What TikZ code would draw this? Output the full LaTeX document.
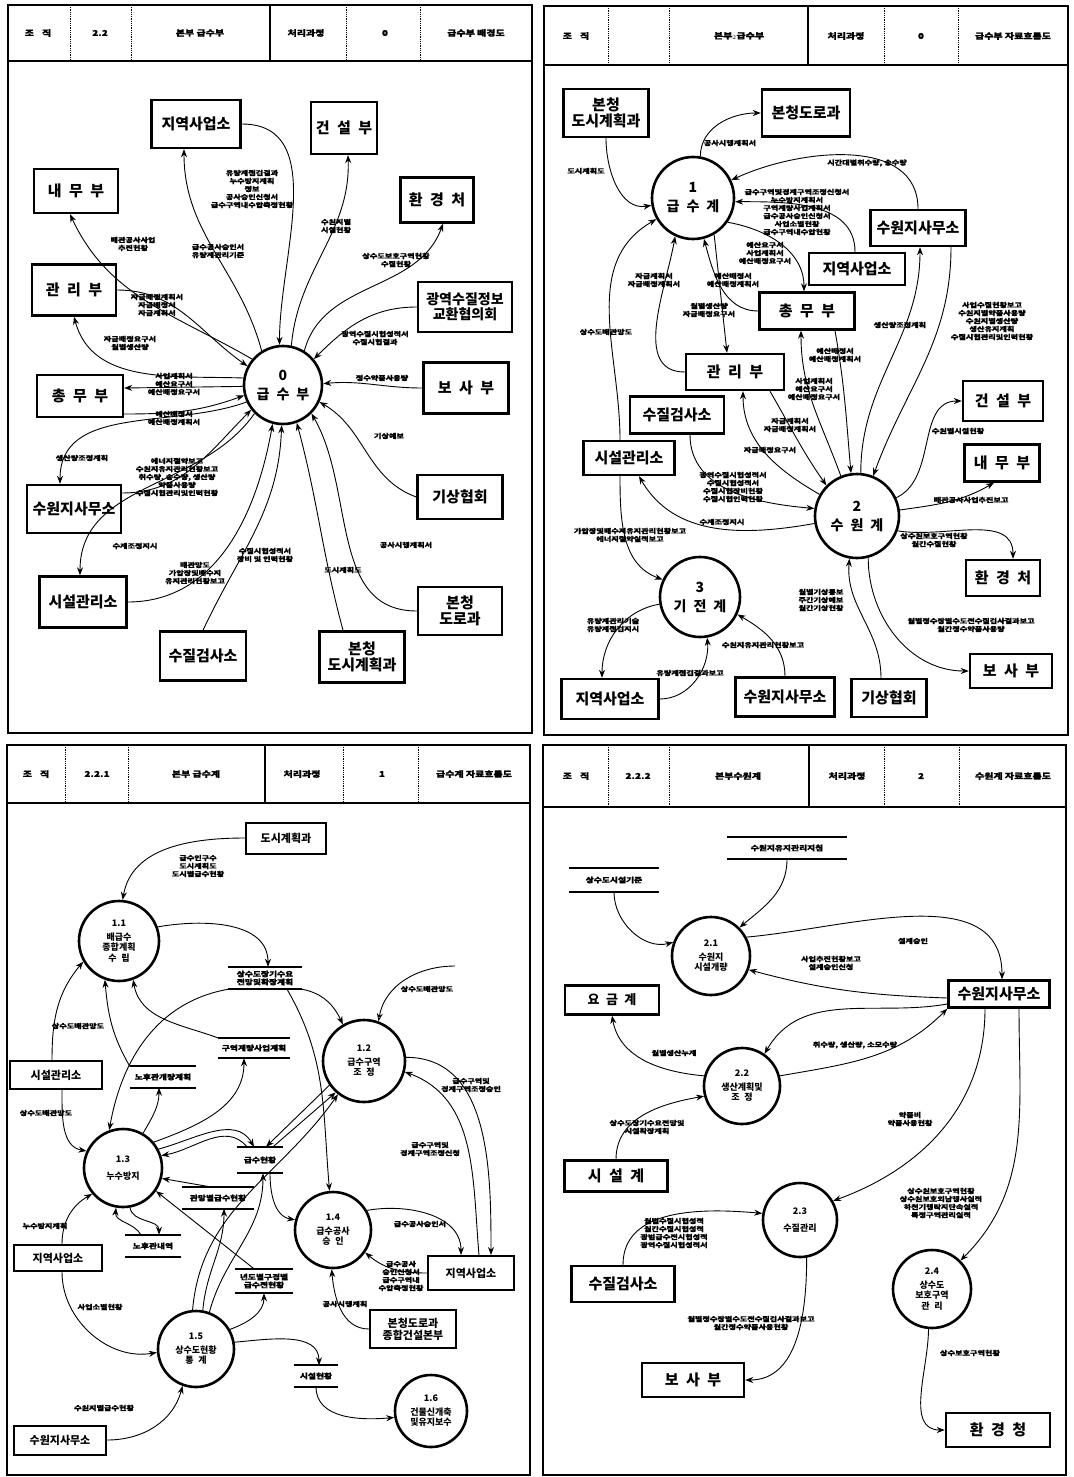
\documentclass[tikz,border=0pt]{standalone}
\usepackage{fontspec}
\setmainfont{Noto Sans CJK KR}
\newfontfamily\lblfam{Noto Sans CJK KR}[FakeStretch=1.25,FakeBold=1.2]
\usetikzlibrary{positioning,shapes,arrows,arrows.meta}

\newcommand\kgap{\hspace{.5em}}
\newcommand\extfont{\fontsize{15}{16}\selectfont\bfseries}
\newcommand\extsfont{\fontsize{11}{12}\selectfont\bfseries}
\newcommand\procfont{\fontsize{14}{16}\selectfont\bfseries}
\newcommand\procsfont{\fontsize{9}{10.5}\selectfont\bfseries}
\newcommand\lblfont{\lblfam\fontsize{6.5}{8}\selectfont\bfseries}
\newcommand\stfont{\lblfam\fontsize{7}{8}\selectfont\bfseries}
\newcommand\hdfont{\lblfam\fontsize{8}{9}\selectfont\bfseries}

\begin{document}
\begin{tikzpicture}[x=1pt, y=1pt,
  >={Stealth[length=8pt,width=6pt]},
  ext/.style={draw, line width=2.4pt, font=\extfont, inner sep=2pt, align=center},
  exts/.style={ext, line width=2pt, font=\extsfont},
  proc/.style={circle, draw, line width=2.6pt, inner sep=0pt, align=center, font=\procfont},
  procs/.style={proc, font=\procsfont},
  store/.style={font=\stfont, align=center, inner sep=1pt,
    append after command={(\tikzlastnode.north west) edge[line width=2pt] (\tikzlastnode.north east)
      (\tikzlastnode.south west) edge[line width=2pt] (\tikzlastnode.south east)}},
  flow/.style={->, line width=0.9pt},
  lbl/.style={font=\lblfont, align=center, inner sep=0pt},
  hd/.style={font=\hdfont, inner sep=0pt},
  frame/.style={line width=2.6pt},
  hdiv/.style={line width=0.8pt, densely dotted}]
\useasboundingbox (0,0) rectangle (1073,-1477);

% ---------------- panel 1 : 급수부 배경도
\draw[frame] (8,-5) rectangle (532,-733);
\draw[frame] (8,-61) -- (532,-61);
\draw[frame] (270,-5) -- (270,-61);
\foreach \x in {70,131,346,420} \draw[hdiv] (\x,-5) -- (\x,-61);
\node[hd] (hA1) at (38,-33) {조\kgap\kgap 직};
\node[hd] (hA2) at (100,-33) {2.2};
\node[hd] (hA3) at (200,-33) {본부 급수부};
\node[hd] (hA4) at (306,-33) {처리과정};
\node[hd] (hA5) at (385,-33) {0};
\node[hd] (hA6) at (476,-33) {급수부 배경도};

\node[ext, minimum width=89, minimum height=48] (tlJiy) at (196,-124) {지역사업소};
\node[ext, minimum width=66, minimum height=52] (tlGeon) at (344,-128) {건\kgap 설\kgap 부};
\node[ext, minimum width=84, minimum height=44] (tlNae) at (76,-191) {내\kgap 무\kgap 부};
\node[ext, minimum width=73, minimum height=45] (tlHwan) at (437,-200) {환\kgap 경\kgap 처};
\node[ext, minimum width=84, minimum height=51] (tlGwan) at (74,-290) {관\kgap 리\kgap 부};
\node[ext, minimum width=94, minimum height=50, font=\fontsize{14}{15}\selectfont\bfseries] (tlGwang) at (465,-307) {광역수질정보\\교환협의회};
\node[proc, minimum size=78] (c0) at (283,-385) {0\\[3pt]급\kgap 수\kgap 부};
\node[ext, minimum width=86, minimum height=42] (tlChong) at (80,-396) {총\kgap 무\kgap 부};
\node[ext, minimum width=85, minimum height=51] (tlBosa) at (466,-388) {보\kgap 사\kgap 부};
\node[ext, minimum width=85, minimum height=44] (tlGisang) at (460,-497) {기상협회};
\node[ext, minimum width=94, minimum height=48] (tlSuwon) at (74,-509) {수원지사무소};
\node[ext, minimum width=87, minimum height=51] (tlSiseol) at (83,-602) {시설관리소};
\node[ext, minimum width=86, minimum height=49] (tlSujil) at (203,-656) {수질검사소};
\node[ext, minimum width=85, minimum height=51] (tlDosi) at (362,-657) {본청\\도시계획과};
\node[ext, minimum width=84, minimum height=48] (tlDoro) at (460,-611) {본청\\도로과};

\draw[flow] (c0.122) to[out=105,in=-90] ([xshift=-12pt]tlJiy.south);
\draw[flow] (tlJiy.east) to[out=0,in=90] (c0.95);
\draw[flow] (c0.78) to[out=85,in=-88] ([xshift=4pt]tlGeon.south);
\draw[flow] (c0.58) to[out=75,in=-110] ([xshift=6pt]tlHwan.south);
\draw[flow] (c0.140) to[out=150,in=-65] ([xshift=-6pt]tlNae.south);
\draw[flow] (tlGwan.east) to[out=0,in=145] (c0.152);
\draw[flow] (c0.170) to[out=178,in=-75] (tlGwan.south);
\draw[flow] (tlGwang.west) to[out=180,in=45] (c0.40);
\draw[flow] (tlBosa.west) to[out=180,in=5] (c0.2);
\draw[flow] (c0.182) -- ([yshift=8pt]tlChong.east);
\draw[flow] ([yshift=-18pt]tlChong.east) to[out=0,in=200] (c0.195);
\draw[flow] (tlGisang.west) to[out=160,in=-30] (c0.-25);
\draw[flow] (c0.205) to[out=200,in=90] ([xshift=-14pt]tlSuwon.north);
\draw[flow] ([yshift=16pt]tlSuwon.east) to[out=0,in=225] (c0.218);
\draw[flow] (c0.-135) to[out=235,in=90] ([xshift=-3pt]tlSiseol.north);
\draw[flow] (tlSiseol.east) to[out=0,in=-100] (c0.-105);
\draw[flow] (tlSujil.north) to[out=65,in=-92] (c0.-92);
\draw[flow] ([xshift=-19pt]tlDosi.north) to[out=105,in=-75] (c0.-70);
\draw[flow] (tlDoro.west) to[out=180,in=-60] (c0.-45);

\node[lbl] (tlL1) at (252,-189) {유량계점검결과\\누수방지계획\\정보\\공사승인신청서\\급수구역내수압측정현황};
\node[lbl] (tlL2) at (218,-251) {급수공사승인서\\유량계관리기준};
\node[lbl] (tlL3) at (133,-244) {배관공사사업\\추진현황};
\node[lbl] (tlL4) at (336,-226) {수원지별\\시설현황};
\node[lbl] (tlL5) at (396,-260) {상수도보호구역현황\\수질현황};
\node[lbl] (tlL6) at (157,-305) {자금배정계획서\\자금배정서\\자금계획서};
\node[lbl] (tlL7) at (130,-343) {자금배정요구서\\월별생산량};
\node[lbl] (tlL8) at (375,-338) {광역수질시험성적서\\수질시험결과};
\node[lbl] (tlL9) at (382,-378) {정수약품사용량};
\node[lbl] (tlL10) at (174,-384) {사업계획서\\예산요구서\\예산배정요구서};
\node[lbl] (tlL11) at (174,-418) {예산배정서\\예산배정계획서};
\node[lbl] (tlL12) at (389,-436) {기상예보};
\node[lbl] (tlL13) at (82,-458) {생산량조정계획};
\node[lbl] (tlL14) at (177,-477) {에너지절약보고\\수원지유지관리현황보고\\취수량, 송수량, 생산량\\약품사용량\\수질시험관리및인력현황};
\node[lbl] (tlL15) at (135,-546) {수계조정지시};
\node[lbl] (tlL16) at (195,-573) {배관망도\\가압장및배수지\\유지관리현황보고};
\node[lbl] (tlL17) at (265,-555) {수질시험성적서\\장비 및 인력현황};
\node[lbl] (tlL18) at (343,-570) {도시계획도};
\node[lbl] (tlL19) at (406,-545) {공사시행계획서};

% ---------------- panel 2 : 급수부 자료흐름도
\draw[frame] (544,-6) rectangle (1068,-735);
\draw[frame] (544,-65) -- (1068,-65);
\draw[frame] (808,-6) -- (808,-65);
\foreach \x in {608,669,884,958} \draw[hdiv] (\x,-6) -- (\x,-65);
\node[hd] (hB1) at (576,-36) {조\kgap\kgap 직};
\node[hd] (hB3) at (739,-36) {본부$_2$급수부};
\node[hd] (hB4) at (846,-36) {처리과정};
\node[hd] (hB5) at (921,-36) {0};
\node[hd] (hB6) at (1013,-36) {급수부 자료흐름도};

\node[ext, minimum width=85, minimum height=48] (trDosi) at (606,-113) {본청\\도시계획과};
\node[ext, minimum width=88, minimum height=47] (trDoro) at (806,-113) {본청도로과};
\node[proc, minimum size=82] (c1) at (693,-198) {1\\[3pt]급\kgap 수\kgap 계};
\node[ext, minimum width=95, minimum height=36] (trSuwon) at (918,-228) {수원지사무소};
\node[ext, minimum width=96, minimum height=32] (trJiy) at (857,-269) {지역사업소};
\node[ext, minimum width=95, minimum height=37] (trChong) at (807,-311) {총\kgap 무\kgap 부};
\node[ext, minimum width=98, minimum height=36] (trGwan) at (735,-372) {관\kgap 리\kgap 부};
\node[ext, minimum width=94, minimum height=37] (trSujil) at (677,-415) {수질검사소};
\node[ext, minimum width=91, minimum height=34] (trSiseol) at (629,-458) {시설관리소};
\node[ext, minimum width=80, minimum height=40] (trGeon) at (1003,-401) {건\kgap 설\kgap 부};
\node[ext, minimum width=75, minimum height=37] (trNae) at (1002,-463) {내\kgap 무\kgap 부};
\node[proc, minimum size=84] (c2) at (857,-516) {2\\[3pt]수\kgap 원\kgap 계};
\node[proc, minimum size=80] (c3) at (700,-597) {3\\[3pt]기\kgap 전\kgap 계};
\node[ext, minimum width=74, minimum height=36] (trHwan) at (1003,-578) {환\kgap 경\kgap 처};
\node[ext, minimum width=82, minimum height=34] (trBosa) at (1011,-671) {보\kgap 사\kgap 부};
\node[ext, minimum width=97, minimum height=40] (trJiyB) at (610,-699) {지역사업소};
\node[ext, minimum width=99, minimum height=39] (trSuwonB) at (785,-697) {수원지사무소};
\node[ext, minimum width=75, minimum height=38] (trGisang) at (889,-698) {기상협회};

\draw[flow] (trDosi.south) to[out=-90,in=190] (c1.190);
\draw[flow] (c1.80) to[out=90,in=180] (trDoro.west);
\draw[flow] (trSuwon.north) to[out=90,in=25] (c1.25);
\draw[flow] ([xshift=-2pt]trJiy.north) to[out=90,in=0] (c1.-5);
\draw[flow] (c1.-35) to[out=-10,in=90] ([xshift=-3pt]trChong.north);
\draw[flow] (trChong.west) to[out=180,in=-75] (c1.-75);
\draw[flow] (c1.-60) -- ([xshift=-8pt]trGwan.north);
\draw[flow] (trGwan.west) to[out=180,in=-100] (c1.-115);
\draw[flow] ([xshift=-9pt]trSiseol.north) to[out=90,in=-150] (c1.-150);
\draw[flow] ([xshift=-9pt]trSiseol.south) to[out=-90,in=160] (c3.155);
\draw[flow] ([xshift=33pt]trSuwon.south) to[out=-90,in=70] (c2.68);
\draw[flow] (c2.85) to[out=90,in=-90] ([xshift=2pt]trSuwon.south);
\draw[flow] (c2.112) to[out=110,in=-90] ([xshift=-6pt]trChong.south);
\draw[flow] ([xshift=28pt]trChong.south) to[out=-80,in=95] (c2.98);
\draw[flow] (c2.150) to[out=150,in=-90] ([xshift=8pt]trGwan.south);
\draw[flow] ([xshift=35pt]trGwan.south) to[out=-60,in=125] (c2.135);
\draw[flow] ([xshift=13pt]trSujil.south) to[out=-90,in=175] (c2.170);
\draw[flow] (c2.190) to[out=190,in=-60] ([xshift=10pt]trSiseol.south);
\draw[flow] (c2.25) to[out=25,in=180] (trGeon.west);
\draw[flow] (c2.8) to[out=8,in=-150] ([xshift=-8pt]trNae.south);
\draw[flow] (c2.-20) to[out=-10,in=90] ([xshift=10pt]trHwan.north);
\draw[flow] (c2.-75) to[out=-90,in=180] (trBosa.west);
\draw[flow] ([xshift=-8pt]trGisang.north) to[out=90,in=-95] (c2.-100);
\draw[flow] (c3.190) to[out=190,in=90] ([xshift=-8pt]trJiyB.north);
\draw[flow] (trJiyB.east) to[out=0,in=-85] (c3.-80);
\draw[flow] (trSuwonB.north) to[out=90,in=-30] (c3.-25);

\node[lbl] (trL1) at (586,-171) {도시계획도};
\node[lbl] (trL2) at (730,-143) {공사시행계획서};
\node[lbl] (trL3) at (867,-163) {시간대별취수량, 송수량};
\node[lbl] (trL4) at (797,-212) {급수구역및경계구역조정신청서\\누수방지계획서\\구역계량사업계획서\\급수공사승인신청서\\사업소별현황\\급수구역내수압현황};
\node[lbl] (trL5) at (765,-253) {예산요구서\\사업계획서\\예산배정요구서};
\node[lbl] (trL6) at (733,-280) {예산배정서\\예산배정계획서};
\node[lbl] (trL7) at (709,-310) {월별생산량\\자금배정요구서};
\node[lbl] (trL8) at (654,-280) {자금계획서\\자금배정계획서};
\node[lbl] (trL9) at (606,-332) {상수도배관망도};
\node[lbl] (trL10) at (992,-321) {사업수질현황보고\\수원지별약품사용량\\수원지별생산량\\생산유지계획\\수질시험관리및인력현황};
\node[lbl] (trL11) at (900,-325) {생산량조정계획};
\node[lbl] (trL12) at (814,-389) {사업계획서\\예산요구서\\예산배정요구서};
\node[lbl] (trL13) at (835,-355) {예산배정서\\예산배정계획서};
\node[lbl] (trL14) at (770,-450) {자금배정요구서};
\node[lbl] (trL15) at (790,-425) {자금계획서\\자금배정계획서};
\node[lbl] (trL16) at (733,-487) {광역수질시험성적서\\수질시험성적서\\수질시험장비현황\\수질시험인력현황};
\node[lbl] (trL17) at (722,-522) {수계조정지시};
\node[lbl] (trL18) at (958,-431) {수원별시설현황};
\node[lbl] (trL19) at (971,-500) {배관공사사업추진보고};
\node[lbl] (trL20) at (934,-540) {상수원보호구역현황\\월간수질현황};
\node[lbl] (trL21) at (971,-625) {월별정수장별수도전수질검사결과보고\\월간정수약품사용량};
\node[lbl] (trL22) at (821,-600) {월별기상통보\\주간기상예보\\월간기상현황};
\node[lbl] (trL23) at (613,-625) {유량계관리기술\\유량계점검지시};
\node[lbl] (trL24) at (690,-673) {유량계점검결과보고};
\node[lbl] (trL25) at (763,-645) {수원지유지관리현황보고};
\node[lbl] (trL26) at (630,-535) {가압장및배수지유지관리현황보고\\에너지절약실적보고};

% ---------------- panel 3 : 급수계 자료흐름도
\draw[frame] (7,-745) rectangle (530,-1475);
\draw[frame] (7,-803) -- (530,-803);
\draw[frame] (265,-745) -- (265,-803);
\foreach \x in {65,128,343,418} \draw[hdiv] (\x,-745) -- (\x,-803);
\node[hd] (hC1) at (36,-774) {조\kgap\kgap 직};
\node[hd] (hC2) at (97,-774) {2.2.1};
\node[hd] (hC3) at (196,-774) {본부 급수계};
\node[hd] (hC4) at (302,-774) {처리과정};
\node[hd] (hC5) at (382,-774) {1};
\node[hd] (hC6) at (474,-774) {급수계 자료흐름도};

\node[exts, minimum width=80, minimum height=31] (blDosi) at (286,-838) {도시계획과};
\node[procs, minimum size=80] (p11) at (119,-941) {1.1\\[3pt]배급수\\종합계획\\수\kgap 립};
\node[store, minimum width=73, minimum height=22] (sLong) at (265,-978) {상수도장기수요\\전망및확장계획};
\node[procs, minimum size=82] (p12) at (364,-1061) {1.2\\[3pt]급수구역\\조\kgap 정};
\node[store, minimum width=72, minimum height=20] (sGuyeok) at (254,-1048) {구역계량사업계획};
\node[store, minimum width=66, minimum height=21] (sNohu) at (163,-1077) {노후관개량계획};
\node[exts, minimum width=92, minimum height=28] (blSiseol) at (56,-1075) {시설관리소};
\node[procs, minimum size=78] (p13) at (123,-1168) {1.3\\[6pt]누수방지};
\node[store, minimum width=46, minimum height=26] (sGupsu) at (260,-1160) {급수현황};
\node[store, minimum width=71, minimum height=21] (sGwanmang) at (218,-1198) {관망별급수현황};
\node[procs, minimum size=76] (p14) at (333,-1230) {1.4\\[3pt]급수공사\\승\kgap 인};
\node[store, minimum width=55, minimum height=22] (sNohuN) at (153,-1246) {노후관내역};
\node[exts, minimum width=88, minimum height=26] (blJiyL) at (58,-1258) {지역사업소};
\node[store, minimum width=58, minimum height=24] (sYeondo) at (264,-1281) {년도별구경별\\급수전현황};
\node[exts, minimum width=86, minimum height=34] (blJiyR) at (471,-1273) {지역사업소};
\node[exts, minimum width=86, minimum height=38] (blDoro) at (413,-1329) {본청도로과\\종합건설본부};
\node[procs, minimum size=76] (p15) at (196,-1349) {1.5\\[3pt]상수도현황\\통\kgap 계};
\node[store, minimum width=44, minimum height=21] (sSiseol) at (316,-1376) {시설현황};
\node[procs, minimum size=72] (p16) at (431,-1411) {1.6\\[3pt]건물신개축\\및유지보수};
\node[exts, minimum width=92, minimum height=29] (blSuwon) at (60,-1440) {수원지사무소};
\coordinate (pFree) at (455,-966);

\draw[flow] (blDosi.west) to[out=180,in=80] (p11.85);
\draw[flow] (p11.20) to[out=10,in=90] ([xshift=3pt]sLong.north);
\draw[flow] (sLong.south east) to[out=-10,in=115] (p12.120);
\draw[flow] ([xshift=22pt]sLong.south) to[out=-60,in=95] (p14.95);
\draw[flow] (sLong.south west) to[out=190,in=80] (p13.110);
\draw[flow] (sGuyeok.north west) to[out=160,in=-80] (p11.-70);
\draw[flow] (sNohu.north west) to[out=120,in=-85] (p11.-110);
\draw[flow] (p13.60) to[out=60,in=-90] ([xshift=-4pt]sNohu.south);
\draw[flow] (p13.40) to[out=20,in=-90] ([xshift=-10pt]sGuyeok.south);
\draw[flow] ([xshift=-4pt]blSiseol.north) to[out=90,in=-130] (p11.-150);
\draw[flow] ([xshift=6pt]blSiseol.south) to[out=-90,in=170] (p13.155);
\draw[-{Stealth[open,length=8pt,width=6pt]}, line width=0.9pt] (pFree) to[out=180,in=80] (p12.70);
\draw[flow] (p12.5) to[out=0,in=90] ([xshift=20pt]blJiyR.north);
\draw[flow] ([xshift=8pt]blJiyR.north) to[out=95,in=-20] (p12.-15);
\draw[flow] (p14.30) to[out=10,in=90] ([xshift=-10pt]blJiyR.north);
\draw[flow] (blJiyR.west) to[out=180,in=-40] (p14.-35);
\draw[flow] (blDoro.west) to[out=180,in=-85] (p14.-92);
\draw[flow] (p13.28) to[out=15,in=120] ([xshift=-6pt]sGupsu.north);
\draw[flow] ([xshift=-13pt]sGupsu.north) to[out=130,in=10] (p13.18);
\draw[flow] (p12.-145) -- ([xshift=6pt]sGupsu.north);
\draw[flow] ([xshift=13pt]sGupsu.north) -- (p12.-132);
\draw[flow] ([xshift=-5pt]sGwanmang.north) -- (p13.-15);
\draw[flow] (p13.-80) to[out=-80,in=90] ([xshift=6pt]sNohuN.north);
\draw[flow] ([xshift=-12pt]sNohuN.north) to[out=120,in=-95] (p13.-100);
\draw[flow] ([xshift=-10pt]sYeondo.north) -- (p13.-35);
\draw[flow] (p15.80) to[out=85,in=-90] ([xshift=6pt]sGwanmang.south);
\draw[flow] (p15.70) to[out=75,in=-90] ([xshift=3pt]sGupsu.south);
\draw[flow] (p15.95) to[out=85,in=-125] (p12.-128);
\draw[flow] ([xshift=10pt]sGupsu.south) to[out=-90,in=170] (p14.165);
\draw[flow] (p15.30) to[out=20,in=-90] (sYeondo.south);
\draw[flow] (p15.10) to[out=5,in=90] ([xshift=3pt]sSiseol.north);
\draw[flow] (sSiseol.south) to[out=-90,in=185] (p16.190);
\draw[flow] ([xshift=4pt]blJiyL.south) to[out=-90,in=190] (p15.185);
\draw[flow] ([xshift=4pt]blJiyL.north) to[out=90,in=-150] (p13.-140);
\draw[flow] (blSuwon.east) to[out=0,in=-105] (p15.-110);

\node[lbl] (blL1) at (198,-866) {급수인구수\\도시계획도\\도시별급수현황};
\node[lbl] (blL2) at (78,-1026) {상수도배관망도};
\node[lbl] (blL3) at (46,-1113) {상수도배관망도};
\node[lbl] (blL4) at (427,-989) {상수도배관망도};
\node[lbl] (blL5) at (471,-1085) {급수구역및\\경계구역조정승인};
\node[lbl] (blL6) at (430,-1149) {급수구역및\\경계구역조정신청};
\node[lbl] (blL7) at (420,-1224) {급수공사승인서};
\node[lbl] (blL8) at (401,-1276) {급수공사\\승인신청서\\급수구역내\\수압측정현황};
\node[lbl] (blL9) at (345,-1304) {공사시행계획};
\node[lbl] (blL10) at (100,-1307) {사업소별현황};
\node[lbl] (blL11) at (45,-1226) {누수방지계획};
\node[lbl] (blL12) at (104,-1408) {수원지별급수현황};

% ---------------- panel 4 : 수원계 자료흐름도
\draw[frame] (543,-745) rectangle (1066,-1475);
\draw[frame] (543,-807) -- (1066,-807);
\draw[frame] (809,-745) -- (809,-807);
\foreach \x in {608,669,884,959} \draw[hdiv] (\x,-745) -- (\x,-807);
\node[hd] (hD1) at (576,-776) {조\kgap\kgap 직};
\node[hd] (hD2) at (638,-776) {2.2.2};
\node[hd] (hD3) at (738,-776) {본부수원계};
\node[hd] (hD4) at (847,-776) {처리과정};
\node[hd] (hD5) at (921,-776) {2};
\node[hd] (hD6) at (1013,-776) {수원계 자료흐름도};

\node[store, minimum width=120, minimum height=22] (sJichim) at (787,-848) {수원지유지관리지침};
\node[store, minimum width=90, minimum height=24] (sGijun) at (614,-880) {상수도시설기준};
\node[procs, minimum size=78] (q21) at (711,-956) {2.1\\[3pt]수원지\\시설개량};
\node[ext, minimum width=101, minimum height=27] (brSuwon) at (999,-994) {수원지사무소};
\node[ext, minimum width=94, minimum height=29, font=\fontsize{13}{14}\selectfont\bfseries] (brYogeum) at (612,-1000) {요\kgap 금\kgap 계};
\node[procs, minimum size=76] (q22) at (742,-1086) {2.2\\[3pt]생산계획및\\조\kgap 정};
\node[ext, minimum width=103, minimum height=31] (brSiseol) at (616,-1176) {시\kgap 설\kgap 계};
\node[procs, minimum size=74] (q23) at (800,-1220) {2.3\\[6pt]수질관리};
\node[ext, minimum width=103, minimum height=36] (brSujil) at (623,-1284) {수질검사소};
\node[procs, minimum size=78] (q24) at (932,-1289) {2.4\\[3pt]상수도\\보호구역\\관\kgap 리};
\node[ext, minimum width=102, minimum height=34] (brBosa) at (693,-1380) {보\kgap 사\kgap 부};
\node[ext, minimum width=104, minimum height=34] (brHwan) at (998,-1430) {환\kgap 경\kgap 청};

\draw[flow] (sGijun.south) to[out=-90,in=195] (q21.160);
\draw[flow] (sJichim.south) to[out=-90,in=40] (q21.45);
\draw[flow] (q21.28) to[out=5,in=90] ([xshift=3pt]brSuwon.north);
\draw[flow] ([yshift=-4pt]brSuwon.west) to[out=178,in=-15] (q21.-20);
\draw[flow] ([yshift=-10pt]brSuwon.west) to[out=190,in=60] (q22.55);
\draw[flow] (q22.15) to[out=10,in=-135] (brSuwon.south west);
\draw[flow] (q22.165) to[out=175,in=-80] (brYogeum.south);
\draw[flow] (brSiseol.north) to[out=90,in=190] (q22.-165);
\draw[flow] ([xshift=-14pt]brSuwon.south) to[out=-90,in=20] (q23.30);
\draw[flow] ([xshift=20pt]brSuwon.south) to[out=-90,in=45] (q24.45);
\draw[flow] (brSujil.north) to[out=90,in=175] (q23.170);
\draw[flow] (q23.-80) to[out=-90,in=0] (brBosa.east);
\draw[flow] (q24.-95) to[out=-90,in=180] (brHwan.west);

\node[lbl] (brL1) at (913,-941) {설계승인};
\node[lbl] (brL2) at (831,-963) {사업추진현황보고\\설계승인신청};
\node[lbl] (brL3) at (855,-1045) {취수량, 생산량, 소모수량};
\node[lbl] (brL4) at (674,-1053) {월별생산누계};
\node[lbl] (brL5) at (647,-1127) {상수도장기수요전망및\\시설확장계획};
\node[lbl] (brL6) at (910,-1119) {약품비\\약품사용현황};
\node[lbl] (brL7) at (941,-1203) {상수원보호구역현황\\상수원보호외남행사실적\\하천기행락지단속실적\\특정구역관리실적};
\node[lbl] (brL8) at (674,-1233) {월별수질시험성적\\월간수질시험성적\\광범급수전시험성적\\광역수질시험성적서};
\node[lbl] (brL9) at (751,-1323) {월별정수장별수도전수질검사결과보고\\월간정수약품사용현황};
\node[lbl] (brL10) at (970,-1353) {상수보호구역현황};
\end{tikzpicture}
\end{document}
